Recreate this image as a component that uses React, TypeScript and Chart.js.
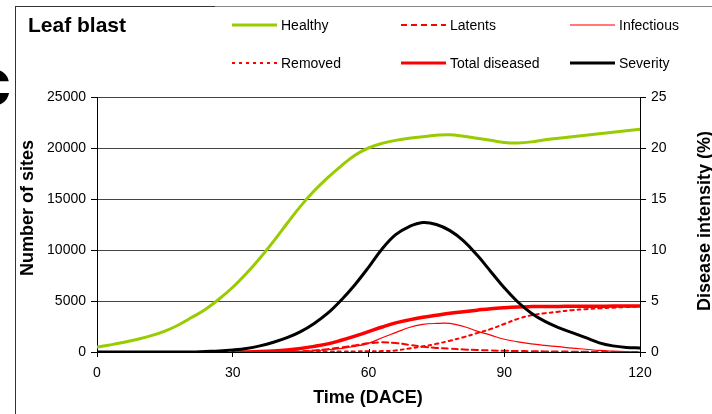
import React, { useEffect, useRef } from 'react';
import { Chart, registerables } from 'chart.js';

Chart.register(...registerables);

// ---------- DATA ----------
const fullTime = [0, 3, 6, 9, 12, 15, 18, 21, 24, 27, 30, 33, 36, 39, 42, 45, 48, 51, 54, 57, 60, 63, 66, 69, 72, 75, 78, 81, 84, 87, 90, 93, 96, 99, 102, 105, 108, 111, 114, 117, 120];
const healthy = [500, 700, 950, 1250, 1600, 2050, 2650, 3400, 4200, 5200, 6350, 7700, 9200, 10850, 12600, 14300, 15800, 17100, 18250, 19300, 20000, 20450, 20750, 20950, 21100, 21250, 21300, 21150, 20950, 20750, 20550, 20500, 20600, 20800, 20950, 21100, 21250, 21400, 21550, 21700, 21850];
const severity = [0, 0, 0, 0, 0, 0, 0, 0, 0.05, 0.1, 0.2, 0.35, 0.6, 0.95, 1.4, 2.0, 2.8, 3.8, 5.1, 6.6, 8.3, 10.1, 11.5, 12.3, 12.7, 12.5, 11.9, 10.9, 9.5, 7.9, 6.3, 4.9, 3.8, 3.0, 2.4, 1.9, 1.4, 0.9, 0.6, 0.45, 0.4];

const diseaseTime = [30, 33, 36, 39, 42, 45, 48, 51, 54, 57, 60, 63, 66, 69, 72, 75, 78, 81, 84, 87, 90, 93, 96, 99, 102, 105, 108, 111, 114, 117, 120];
const latents = [0, 2, 5, 15, 30, 70, 150, 280, 450, 650, 850, 950, 880, 700, 520, 400, 320, 250, 200, 150, 120, 100, 80, 60, 50, 35, 25, 15, 10, 5, 0];
const infectious = [0, 0, 0, 0, 10, 50, 120, 220, 360, 550, 850, 1400, 1900, 2400, 2700, 2800, 2800, 2500, 2050, 1650, 1250, 1000, 800, 650, 520, 380, 270, 150, 80, 30, 0];
const removed = [0, 0, 5, 10, 15, 20, 30, 40, 50, 60, 70, 90, 150, 350, 550, 800, 1100, 1450, 1850, 2250, 2750, 3250, 3600, 3800, 3950, 4100, 4200, 4280, 4350, 4400, 4450];
const totalDiseased = [0, 10, 40, 100, 200, 350, 550, 800, 1150, 1550, 2000, 2450, 2850, 3150, 3400, 3600, 3800, 3950, 4100, 4250, 4350, 4420, 4450, 4460, 4470, 4480, 4490, 4490, 4500, 4500, 4500];

const xTickValues = [0, 30, 60, 90, 120];
const seriesLabels = ['Healthy', 'Latents', 'Infectious', 'Removed', 'Total diseased', 'Severity'];
const chartTitle = 'Leaf blast';
const leftAxisTitle = 'Number of sites';
const rightAxisTitle = 'Disease intensity (%)';
const xAxisTitle = 'Time (DACE)';

const FONT = '"Liberation Sans", Arial, sans-serif';

const toPoints = (xs: number[], ys: number[]) => xs.map((x, i) => ({ x, y: ys[i] }));

const decorPlugin = {
  id: 'decor',
  afterDraw(chart: any) {
    const ctx: CanvasRenderingContext2D = chart.ctx;
    ctx.save();
    // frame
    ctx.lineWidth = 1;
    ctx.strokeStyle = '#333';
    ctx.beginPath();
    ctx.moveTo(15.5, 7);
    ctx.lineTo(15.5, 414);
    ctx.moveTo(15, 6.5);
    ctx.lineTo(215, 6.5);
    ctx.stroke();
    ctx.strokeStyle = '#888';
    ctx.beginPath();
    ctx.moveTo(215, 6.5);
    ctx.lineTo(712, 6.5);
    ctx.stroke();

    // partial panel letter
    ctx.fillStyle = '#000';
    ctx.font = `bold 66px ${FONT}`;
    ctx.textAlign = 'right';
    ctx.textBaseline = 'alphabetic';
    ctx.fillText('c', 11, 105);

    // title
    ctx.font = `bold 21px ${FONT}`;
    ctx.textAlign = 'left';
    ctx.fillText(chartTitle, 28, 32);

    // legend
    const cols = [232, 401, 570];
    const rows = [25, 63];
    ctx.font = `14px ${FONT}`;
    ctx.textBaseline = 'middle';
    chart.data.datasets.forEach((ds: any, i: number) => {
      const x = cols[i % 3];
      const y = rows[Math.floor(i / 3)];
      ctx.save();
      ctx.strokeStyle = ds.legendColor || ds.borderColor;
      ctx.lineWidth = ds.legendWidth || ds.borderWidth;
      ctx.setLineDash(ds.borderDash || []);
      ctx.beginPath();
      ctx.moveTo(x, y);
      ctx.lineTo(x + 45, y);
      ctx.stroke();
      ctx.restore();
      ctx.fillStyle = '#000';
      ctx.textAlign = 'left';
      ctx.fillText(ds.label, x + 49, y + 1);
    });

    // axis titles
    ctx.font = `bold 18px ${FONT}`;
    ctx.textAlign = 'center';
    ctx.textBaseline = 'middle';
    ctx.save();
    ctx.translate(28, 208);
    ctx.rotate(-Math.PI / 2);
    ctx.fillText(leftAxisTitle, 0, 0);
    ctx.restore();
    ctx.save();
    ctx.translate(705, 221);
    ctx.rotate(-Math.PI / 2);
    ctx.fillText(rightAxisTitle, 0, 0);
    ctx.restore();
    ctx.fillText(xAxisTitle, 368, 398);

    // inner parts of x tick marks
    const xs = chart.scales.x;
    const bottom = chart.chartArea.bottom;
    ctx.strokeStyle = '#000';
    ctx.lineWidth = 1;
    ctx.beginPath();
    xTickValues.forEach((v) => {
      const px = Math.round(xs.getPixelForValue(v)) + 0.5;
      ctx.moveTo(px, bottom - 3);
      ctx.lineTo(px, bottom);
    });
    ctx.stroke();
    ctx.restore();
  },
};

const plainTick = (v: any) => String(v);

export default function App() {
  const ref = useRef<HTMLCanvasElement>(null);
  useEffect(() => {
    if (!ref.current) return;
    const chart = new Chart(ref.current, {
      type: 'line',
      data: {
        datasets: [
          {
            label: seriesLabels[0],
            data: toPoints(fullTime, healthy),
            borderColor: '#99cc00',
            borderWidth: 3,
            yAxisID: 'y',
            order: 5,
          },
          {
            label: seriesLabels[1],
            data: toPoints(diseaseTime, latents),
            borderColor: '#ff0000',
            borderWidth: 2,
            borderDash: [6, 4],
            yAxisID: 'y',
            order: 3,
          },
          {
            label: seriesLabels[2],
            data: toPoints(diseaseTime, infectious),
            borderColor: '#ff0000',
            legendColor: '#ff4d4d',
            borderWidth: 1.2,
            legendWidth: 1.5,
            yAxisID: 'y',
            order: 2,
          },
          {
            label: seriesLabels[3],
            data: toPoints(diseaseTime, removed),
            borderColor: '#ff0000',
            borderWidth: 2,
            borderDash: [3, 4],
            yAxisID: 'y',
            order: 4,
          },
          {
            label: seriesLabels[4],
            data: toPoints(diseaseTime, totalDiseased),
            borderColor: '#ff0000',
            borderWidth: 3.5,
            legendWidth: 3,
            yAxisID: 'y',
            order: 1,
          },
          {
            label: seriesLabels[5],
            data: toPoints(fullTime, severity),
            borderColor: '#000000',
            borderWidth: 3,
            yAxisID: 'y1',
            order: 0,
          },
        ] as any,
      },
      options: {
        animation: false,
        responsive: false,
        devicePixelRatio: 1,
        elements: {
          point: { radius: 0, hoverRadius: 0 },
          line: { tension: 0.4, borderCapStyle: 'round', borderJoinStyle: 'round' },
        },
        layout: { padding: { top: 97, left: 0, right: 0, bottom: 0 } },
        plugins: {
          legend: { display: false },
          title: { display: false },
          tooltip: { enabled: false },
        },
        scales: {
          x: {
            type: 'linear',
            min: 0,
            max: 120,
            afterFit: (s: any) => {
              s.height = 62;
            },
            afterBuildTicks: (s: any) => {
              s.ticks = xTickValues.map((v) => ({ value: v }));
            },
            ticks: { color: '#000', font: { size: 14, family: FONT }, padding: 8, maxRotation: 0, callback: plainTick },
            grid: { drawOnChartArea: false, tickLength: 5, tickColor: '#000' },
            border: { color: '#000', width: 1 },
          },
          y: {
            position: 'left',
            min: 0,
            max: 25000,
            afterFit: (s: any) => {
              s.width = 97;
            },
            ticks: { stepSize: 5000, color: '#000', font: { size: 14, family: FONT }, padding: 5, callback: plainTick },
            grid: { color: '#444', lineWidth: 1, tickLength: 6, tickColor: '#000' },
            border: { color: '#000', width: 1 },
          },
          y1: {
            position: 'right',
            min: 0,
            max: 25,
            afterFit: (s: any) => {
              s.width = 72;
            },
            ticks: { stepSize: 5, color: '#000', font: { size: 14, family: FONT }, padding: 5, callback: plainTick },
            grid: { drawOnChartArea: false, tickLength: 6, tickColor: '#000' },
            border: { color: '#000', width: 1 },
          },
        },
      } as any,
      plugins: [decorPlugin],
    });
    return () => chart.destroy();
  }, []);
  return (
    <div style={{ position: 'fixed', left: 0, top: 0, width: 712, height: 414, background: '#fff' }}>
      <canvas ref={ref} width={712} height={414} style={{ display: 'block', width: 712, height: 414 }} />
    </div>
  );
}
